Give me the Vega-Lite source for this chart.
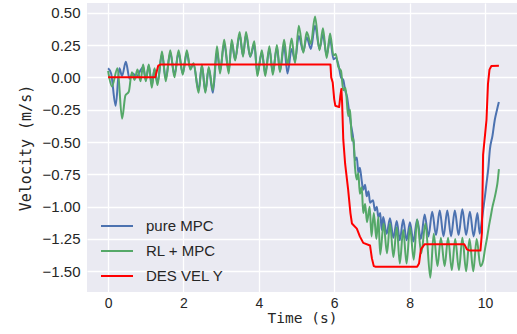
{
  "$schema": "https://vega.github.io/schema/vega-lite/v6.json",
  "width": 430,
  "height": 289,
  "autosize": {"type": "none"},
  "padding": {"left": 87, "top": 3, "right": 0, "bottom": 42},
  "background": "white",
  "config": {
    "view": {"fill": "#EAEAF2", "stroke": null},
    "axis": {
      "grid": true, "gridColor": "white", "gridWidth": 1.3, "domain": false, "ticks": false, "tickSize": 0,
      "labelFont": "Liberation Sans", "labelFontSize": 15, "labelColor": "#262626",
      "titleFont": "DejaVu Sans Mono", "titleFontSize": 15, "titleFontWeight": "normal", "titleColor": "#262626"
    },
    "legend": {"labelFont": "Liberation Sans", "labelFontSize": 15, "labelColor": "#262626"}
  },
  "datasets": {
    "pure": [
      {"t":0.00,"v":0.07},{"t":0.08,"v":0.03},{"t":0.20,"v":-0.22},{"t":0.30,"v":0.07},{"t":0.37,"v":0.01},{"t":0.47,"v":0.12},{"t":0.57,"v":-0.01},{"t":0.66,"v":0.03},{"t":0.75,"v":0.00},{"t":0.85,"v":0.05},
      {"t":0.93,"v":0.08},{"t":1.00,"v":-0.02},{"t":1.08,"v":0.09},{"t":1.16,"v":-0.06},{"t":1.23,"v":0.06},{"t":1.31,"v":-0.04},{"t":1.43,"v":0.18},{"t":1.53,"v":-0.01},{"t":1.65,"v":0.19},{"t":1.76,"v":0.02},
      {"t":1.87,"v":0.19},{"t":1.98,"v":0.03},{"t":2.09,"v":0.19},{"t":2.18,"v":0.07},{"t":2.27,"v":0.10},{"t":2.40,"v":-0.10},{"t":2.49,"v":0.09},{"t":2.58,"v":-0.11},{"t":2.67,"v":0.07},{"t":2.78,"v":-0.12},
      {"t":2.89,"v":0.20},{"t":2.97,"v":0.05},{"t":3.08,"v":0.26},{"t":3.20,"v":0.05},{"t":3.28,"v":0.27},{"t":3.37,"v":0.14},{"t":3.49,"v":0.33},{"t":3.58,"v":0.17},{"t":3.66,"v":0.33},{"t":3.77,"v":0.16},
      {"t":3.88,"v":0.25},{"t":3.96,"v":0.03},{"t":4.08,"v":0.19},{"t":4.17,"v":0.03},{"t":4.28,"v":0.22},{"t":4.37,"v":0.04},{"t":4.48,"v":0.23},{"t":4.56,"v":0.05},{"t":4.67,"v":0.24},{"t":4.76,"v":0.03},
      {"t":4.87,"v":0.22},{"t":4.96,"v":0.13},{"t":5.06,"v":0.32},{"t":5.18,"v":0.20},{"t":5.27,"v":0.31},{"t":5.38,"v":0.22},{"t":5.49,"v":0.40},{"t":5.61,"v":0.22},{"t":5.70,"v":0.33},{"t":5.80,"v":0.17},
      {"t":5.89,"v":0.30},{"t":5.98,"v":0.14},{"t":6.04,"v":0.15},{"t":6.11,"v":0.10},{"t":6.18,"v":0.00},{"t":6.24,"v":-0.02},{"t":6.29,"v":-0.10},{"t":6.34,"v":-0.15},{"t":6.38,"v":-0.23},{"t":6.44,"v":-0.36},
      {"t":6.51,"v":-0.49},{"t":6.55,"v":-0.64},{"t":6.60,"v":-0.62},{"t":6.64,"v":-0.74},{"t":6.68,"v":-0.70},{"t":6.73,"v":-0.80},{"t":6.77,"v":-0.87},{"t":6.82,"v":-0.83},{"t":6.86,"v":-0.92},{"t":6.91,"v":-0.88},
      {"t":6.95,"v":-0.97},{"t":7.03,"v":-0.95},{"t":7.08,"v":-1.03},{"t":7.13,"v":-1.00},{"t":7.17,"v":-1.08},{"t":7.22,"v":-1.05},{"t":7.26,"v":-1.18},{"t":7.30,"v":-1.08},{"t":7.39,"v":-1.21},{"t":7.48,"v":-1.09},
      {"t":7.57,"v":-1.24},{"t":7.66,"v":-1.11},{"t":7.74,"v":-1.26},{"t":7.83,"v":-1.10},{"t":7.92,"v":-1.26},{"t":8.01,"v":-1.12},{"t":8.10,"v":-1.27},{"t":8.20,"v":-1.10},{"t":8.30,"v":-1.25},{"t":8.40,"v":-1.06},
      {"t":8.50,"v":-1.23},{"t":8.60,"v":-1.04},{"t":8.70,"v":-1.22},{"t":8.80,"v":-1.03},{"t":8.90,"v":-1.23},{"t":9.00,"v":-1.03},{"t":9.10,"v":-1.23},{"t":9.20,"v":-1.03},{"t":9.30,"v":-1.22},{"t":9.40,"v":-1.02},
      {"t":9.50,"v":-1.22},{"t":9.60,"v":-1.04},{"t":9.70,"v":-1.23},{"t":9.80,"v":-1.05},{"t":9.86,"v":-1.21},{"t":9.92,"v":-1.10},{"t":9.95,"v":-1.03},{"t":10.00,"v":-0.92},{"t":10.04,"v":-0.82},{"t":10.09,"v":-0.70},
      {"t":10.13,"v":-0.56},{"t":10.20,"v":-0.45},{"t":10.26,"v":-0.33},{"t":10.32,"v":-0.25},{"t":10.37,"v":-0.19}
    ],
    "rl": [
      {"t":0.00,"v":0.05},{"t":0.10,"v":-0.07},{"t":0.25,"v":0.07},{"t":0.37,"v":-0.32},{"t":0.46,"v":-0.14},{"t":0.55,"v":-0.11},{"t":0.63,"v":0.04},{"t":0.70,"v":-0.02},{"t":0.78,"v":0.06},{"t":0.86,"v":-0.03},
      {"t":0.93,"v":0.10},{"t":1.00,"v":-0.03},{"t":1.08,"v":0.10},{"t":1.16,"v":-0.08},{"t":1.23,"v":0.07},{"t":1.31,"v":-0.06},{"t":1.43,"v":0.20},{"t":1.53,"v":-0.03},{"t":1.65,"v":0.21},{"t":1.76,"v":0.00},
      {"t":1.87,"v":0.21},{"t":1.98,"v":0.02},{"t":2.09,"v":0.21},{"t":2.18,"v":0.06},{"t":2.27,"v":0.11},{"t":2.40,"v":-0.12},{"t":2.49,"v":0.10},{"t":2.58,"v":-0.12},{"t":2.67,"v":0.08},{"t":2.78,"v":-0.10},
      {"t":2.89,"v":0.24},{"t":2.97,"v":0.03},{"t":3.08,"v":0.29},{"t":3.20,"v":0.03},{"t":3.28,"v":0.29},{"t":3.37,"v":0.13},{"t":3.49,"v":0.35},{"t":3.58,"v":0.16},{"t":3.66,"v":0.35},{"t":3.77,"v":0.16},
      {"t":3.88,"v":0.28},{"t":3.96,"v":0.01},{"t":4.08,"v":0.21},{"t":4.17,"v":0.01},{"t":4.28,"v":0.24},{"t":4.37,"v":0.02},{"t":4.48,"v":0.25},{"t":4.56,"v":0.04},{"t":4.67,"v":0.29},{"t":4.76,"v":0.10},
      {"t":4.87,"v":0.30},{"t":4.96,"v":0.11},{"t":5.06,"v":0.40},{"t":5.18,"v":0.19},{"t":5.27,"v":0.35},{"t":5.38,"v":0.26},{"t":5.49,"v":0.47},{"t":5.61,"v":0.21},{"t":5.70,"v":0.38},{"t":5.80,"v":0.15},
      {"t":5.89,"v":0.34},{"t":5.98,"v":0.17},{"t":6.04,"v":0.18},{"t":6.11,"v":0.08},{"t":6.18,"v":0.05},{"t":6.24,"v":-0.10},{"t":6.30,"v":-0.08},{"t":6.37,"v":-0.30},{"t":6.42,"v":-0.25},{"t":6.47,"v":-0.49},
      {"t":6.51,"v":-0.47},{"t":6.55,"v":-0.69},{"t":6.60,"v":-0.79},{"t":6.64,"v":-0.74},{"t":6.68,"v":-0.90},{"t":6.73,"v":-0.85},{"t":6.77,"v":-1.05},{"t":6.82,"v":-0.98},{"t":6.87,"v":-1.12},{"t":6.94,"v":-1.00},
      {"t":6.99,"v":-1.23},{"t":7.05,"v":-1.05},{"t":7.12,"v":-1.25},{"t":7.17,"v":-1.08},{"t":7.22,"v":-1.37},{"t":7.31,"v":-1.13},{"t":7.40,"v":-1.36},{"t":7.48,"v":-1.13},{"t":7.57,"v":-1.39},{"t":7.66,"v":-1.16},
      {"t":7.74,"v":-1.44},{"t":7.83,"v":-1.18},{"t":7.92,"v":-1.44},{"t":8.01,"v":-1.16},{"t":8.11,"v":-1.41},{"t":8.20,"v":-1.10},{"t":8.31,"v":-1.36},{"t":8.42,"v":-1.13},{"t":8.55,"v":-1.55},{"t":8.64,"v":-1.21},
      {"t":8.74,"v":-1.46},{"t":8.83,"v":-1.24},{"t":8.93,"v":-1.46},{"t":9.02,"v":-1.24},{"t":9.12,"v":-1.49},{"t":9.21,"v":-1.25},{"t":9.31,"v":-1.49},{"t":9.40,"v":-1.24},{"t":9.50,"v":-1.50},{"t":9.59,"v":-1.25},
      {"t":9.69,"v":-1.50},{"t":9.78,"v":-1.25},{"t":9.88,"v":-1.46},{"t":9.95,"v":-1.42},{"t":10.00,"v":-1.33},{"t":10.05,"v":-1.25},{"t":10.10,"v":-1.16},{"t":10.15,"v":-1.08},{"t":10.20,"v":-1.00},{"t":10.25,"v":-0.94},
      {"t":10.30,"v":-0.87},{"t":10.33,"v":-0.82},{"t":10.37,"v":-0.71}
    ],
    "des": [
      {"t":0.00,"v":0.00},{"t":1.25,"v":0.00},{"t":1.33,"v":0.09},{"t":1.40,"v":0.10},{"t":5.90,"v":0.10},{"t":5.92,"v":0.00},{"t":5.96,"v":-0.04},{"t":6.00,"v":-0.17},{"t":6.03,"v":-0.22},{"t":6.13,"v":-0.23},
      {"t":6.16,"v":-0.15},{"t":6.19,"v":-0.09},{"t":6.21,"v":-0.2},{"t":6.24,"v":-0.48},{"t":6.29,"v":-0.67},{"t":6.37,"v":-0.87},{"t":6.43,"v":-1.05},{"t":6.47,"v":-1.13},{"t":6.60,"v":-1.17},{"t":6.68,"v":-1.23},
      {"t":6.77,"v":-1.28},{"t":6.95,"v":-1.30},{"t":7.00,"v":-1.40},{"t":7.05,"v":-1.46},{"t":7.10,"v":-1.465},{"t":8.20,"v":-1.465},{"t":8.25,"v":-1.44},{"t":8.30,"v":-1.33},{"t":8.40,"v":-1.29},{"t":9.45,"v":-1.29},
      {"t":9.52,"v":-1.33},{"t":9.60,"v":-1.34},{"t":9.88,"v":-1.34},{"t":9.92,"v":-1.2},{"t":9.95,"v":-0.6},{"t":10.00,"v":-0.45},{"t":10.04,"v":-0.33},{"t":10.08,"v":-0.05},{"t":10.12,"v":0.06},{"t":10.17,"v":0.088},
      {"t":10.37,"v":0.09}
    ]
  },
  "encoding": {
    "x": {"field": "t", "type": "quantitative", "title": "Time (s)",
      "scale": {"domain": [-0.56, 10.85], "nice": false, "zero": false},
      "axis": {"values": [0, 2, 4, 6, 8, 10], "format": "d", "labelPadding": 4, "labelFontSize": 14, "titlePadding": 1, "titleFontSize": 14.5}},
    "y": {"field": "v", "type": "quantitative", "title": "Velocity (m/s)",
      "scale": {"domain": [-1.66, 0.575], "nice": false, "zero": false},
      "axis": {"values": [-1.5, -1.25, -1, -0.75, -0.5, -0.25, 0, 0.25, 0.5], "format": ".2f", "labelPadding": 7, "titlePadding": 9}},
    "color": {"field": "s", "type": "nominal", "title": null,
      "scale": {"domain": ["pure MPC", "RL + MPC", "DES VEL Y"], "range": ["#4C72B0", "#55A868", "#FF0000"]},
      "legend": {"orient": "none", "legendX": 13, "legendY": 206, "symbolType": "stroke", "symbolSize": 1024, "labelOffset": 12, "rowPadding": -11, "padding": 0}},
    "strokeWidth": {"field": "s", "type": "nominal", "title": null,
      "scale": {"domain": ["pure MPC", "RL + MPC", "DES VEL Y"], "range": [2, 2, 3.5]},
      "legend": {"orient": "none", "legendX": 13, "legendY": 206, "symbolType": "stroke", "symbolSize": 1024, "labelOffset": 12, "rowPadding": -11, "padding": 0}}
  },
  "layer": [
    {"data": {"name": "pure"}, "transform": [{"calculate": "'pure MPC'", "as": "s"}], "mark": {"type": "line", "strokeJoin": "round", "interpolate": "monotone"}},
    {"data": {"name": "rl"}, "transform": [{"calculate": "'RL + MPC'", "as": "s"}], "mark": {"type": "line", "strokeJoin": "round", "interpolate": "monotone"}},
    {"data": {"name": "des"}, "transform": [{"calculate": "'DES VEL Y'", "as": "s"}], "mark": {"type": "line", "strokeJoin": "round"}}
  ]
}
